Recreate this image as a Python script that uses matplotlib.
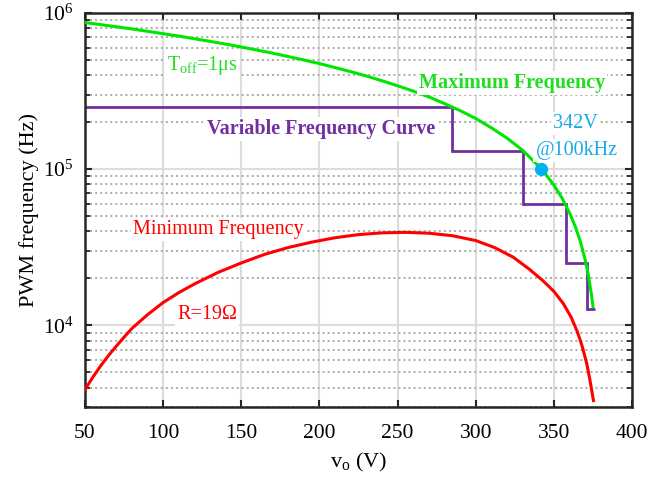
import matplotlib
matplotlib.use("Agg")
import matplotlib.pyplot as plt
import matplotlib.ticker as ticker
import numpy as np

plt.rcParams.update({
    "font.family": "serif", "font.serif": ["Liberation Serif", "DejaVu Serif"],
    "mathtext.fontset": "custom", "mathtext.rm": "Liberation Serif",
    "mathtext.it": "Liberation Serif:italic", "mathtext.bf": "Liberation Serif:bold",
    "font.size": 15.5, "axes.linewidth": 1.8,
    "xtick.direction": "in", "ytick.direction": "in",
    "xtick.top": True, "ytick.right": True,
})

# maximum frequency (T_off = 1 us)
v_max = [50, 60, 70, 80, 90, 100, 110, 120, 130, 140, 150, 160, 170, 180, 190,
         200, 210, 220, 230, 240, 250, 260, 270, 280, 290, 300, 310, 320, 330,
         335, 340, 345, 350, 355, 360, 364, 367, 370, 372, 374, 375]
f_max = [868e3, 842e3, 816e3, 790e3, 763e3, 737e3, 711e3, 684e3, 658e3, 632e3,
         605e3, 579e3, 553e3, 526e3, 500e3, 474e3, 447e3, 421e3, 395e3, 368e3,
         342e3, 316e3, 290e3, 263e3, 237e3, 211e3, 184e3, 158e3, 132e3, 118e3,
         105e3, 92e3, 79e3, 65.8e3, 52.6e3, 42.1e3, 34.2e3, 26.3e3, 21.1e3,
         15.8e3, 13.2e3]

# minimum frequency (R = 19 ohm)
v_min = [50, 55, 60, 65, 70, 75, 80, 90, 100, 110, 120, 135, 150, 165, 180, 195,
         210, 225, 240, 255, 270, 285, 300, 312, 324, 334, 343, 350, 356, 361,
         365, 368, 371, 373, 375.3]
f_min = [3880, 4650, 5500, 6400, 7350, 8400, 9550, 11700, 14000, 16200, 18400,
         21800, 25100, 28500, 31500, 34100, 36400, 38100, 39100, 39400, 38900,
         37500, 34900, 31500, 27300, 23000, 19300, 16500, 13800, 11300, 9100,
         7400, 5700, 4500, 3300]

# variable frequency staircase
step_edges = [50, 285, 330, 358, 371, 376]
step_levels = [250e3, 130e3, 60e3, 25e3, 12.7e3]

op_v, op_f = 342, 100e3

GREEN = "#00E600"
TGREEN = "#22DD22"
RED = "#FF0000"
PURPLE = "#7030A0"
BLUE = "#00B0F0"
TBLUE = "#19A9E6"

fig = plt.figure(figsize=(6.68, 4.80), dpi=100)
ax = fig.add_axes([0.1272, 0.152, 0.819, 0.821])
ax.set_yscale("log")

ax.grid(True, which="major", axis="both", color="#DCDCDC", lw=1.5, ls="-")
ax.grid(True, which="minor", axis="y", color="#ABABAB", lw=1.4, ls=(0, (1, 1.6)))
ax.set_axisbelow(True)

ax.plot(v_max, f_max, color=GREEN, lw=2.2, zorder=3)
ax.plot(v_min, f_min, color=RED, lw=2.2, zorder=3)
ax.stairs(step_levels, step_edges, baseline=None, color=PURPLE, lw=2.0, zorder=2)
ax.plot(op_v, op_f, "o", color=BLUE, ms=8.5, zorder=6)

box = dict(facecolor="white", edgecolor="none", pad=1.5)
fs = 14.5
ax.text(125, 4.63e5, r"T$_{\mathrm{off}}$=1μs", color=TGREEN, fontsize=fs,
        ha="center", va="center", bbox=box, zorder=5)
ax.text(323, 3.55e5, "Maximum Frequency", color=TGREEN, fontsize=fs,
        fontweight="bold", ha="center", va="center", bbox=box, zorder=5)
ax.text(201, 1.80e5, "Variable Frequency Curve", color=PURPLE, fontsize=fs,
        fontweight="bold", ha="center", va="center", bbox=box, zorder=5)
ax.text(364, 1.96e5, "342V", color=TBLUE, fontsize=fs, ha="center",
        va="center", bbox=box, zorder=5)
ax.text(364.5, 1.31e5, "@100kHz", color=TBLUE, fontsize=fs, ha="center",
        va="center", bbox=box, zorder=5)
ax.text(135, 4.08e4, "Minimum Frequency", color=RED, fontsize=fs, ha="center",
        va="center", bbox=box, zorder=5)
ax.text(128, 1.18e4, "R=19Ω", color=RED, fontsize=fs, ha="center",
        va="center", bbox=box, zorder=5)

ax.set_xlim(50, 400)
ax.set_ylim(3e3, 1e6)
ax.xaxis.set_major_locator(ticker.MultipleLocator(50))
ax.yaxis.set_minor_formatter(ticker.NullFormatter())
ax.tick_params(which="major", length=5, width=1.5, colors="#262626", labelcolor="black")
ax.tick_params(axis="x", which="major", pad=12)
ax.tick_params(axis="y", which="major", pad=8)
ax.tick_params(which="minor", length=3.5, width=1.3, colors="#262626")
for s in ax.spines.values():
    s.set_color("#262626")

ax.set_xlabel(r"v$_{\mathrm{o}}$ (V)", fontsize=16, labelpad=6)
ax.set_ylabel("PWM frequency (Hz)", fontsize=16, labelpad=3)

fig.savefig("out.png", dpi=100)
